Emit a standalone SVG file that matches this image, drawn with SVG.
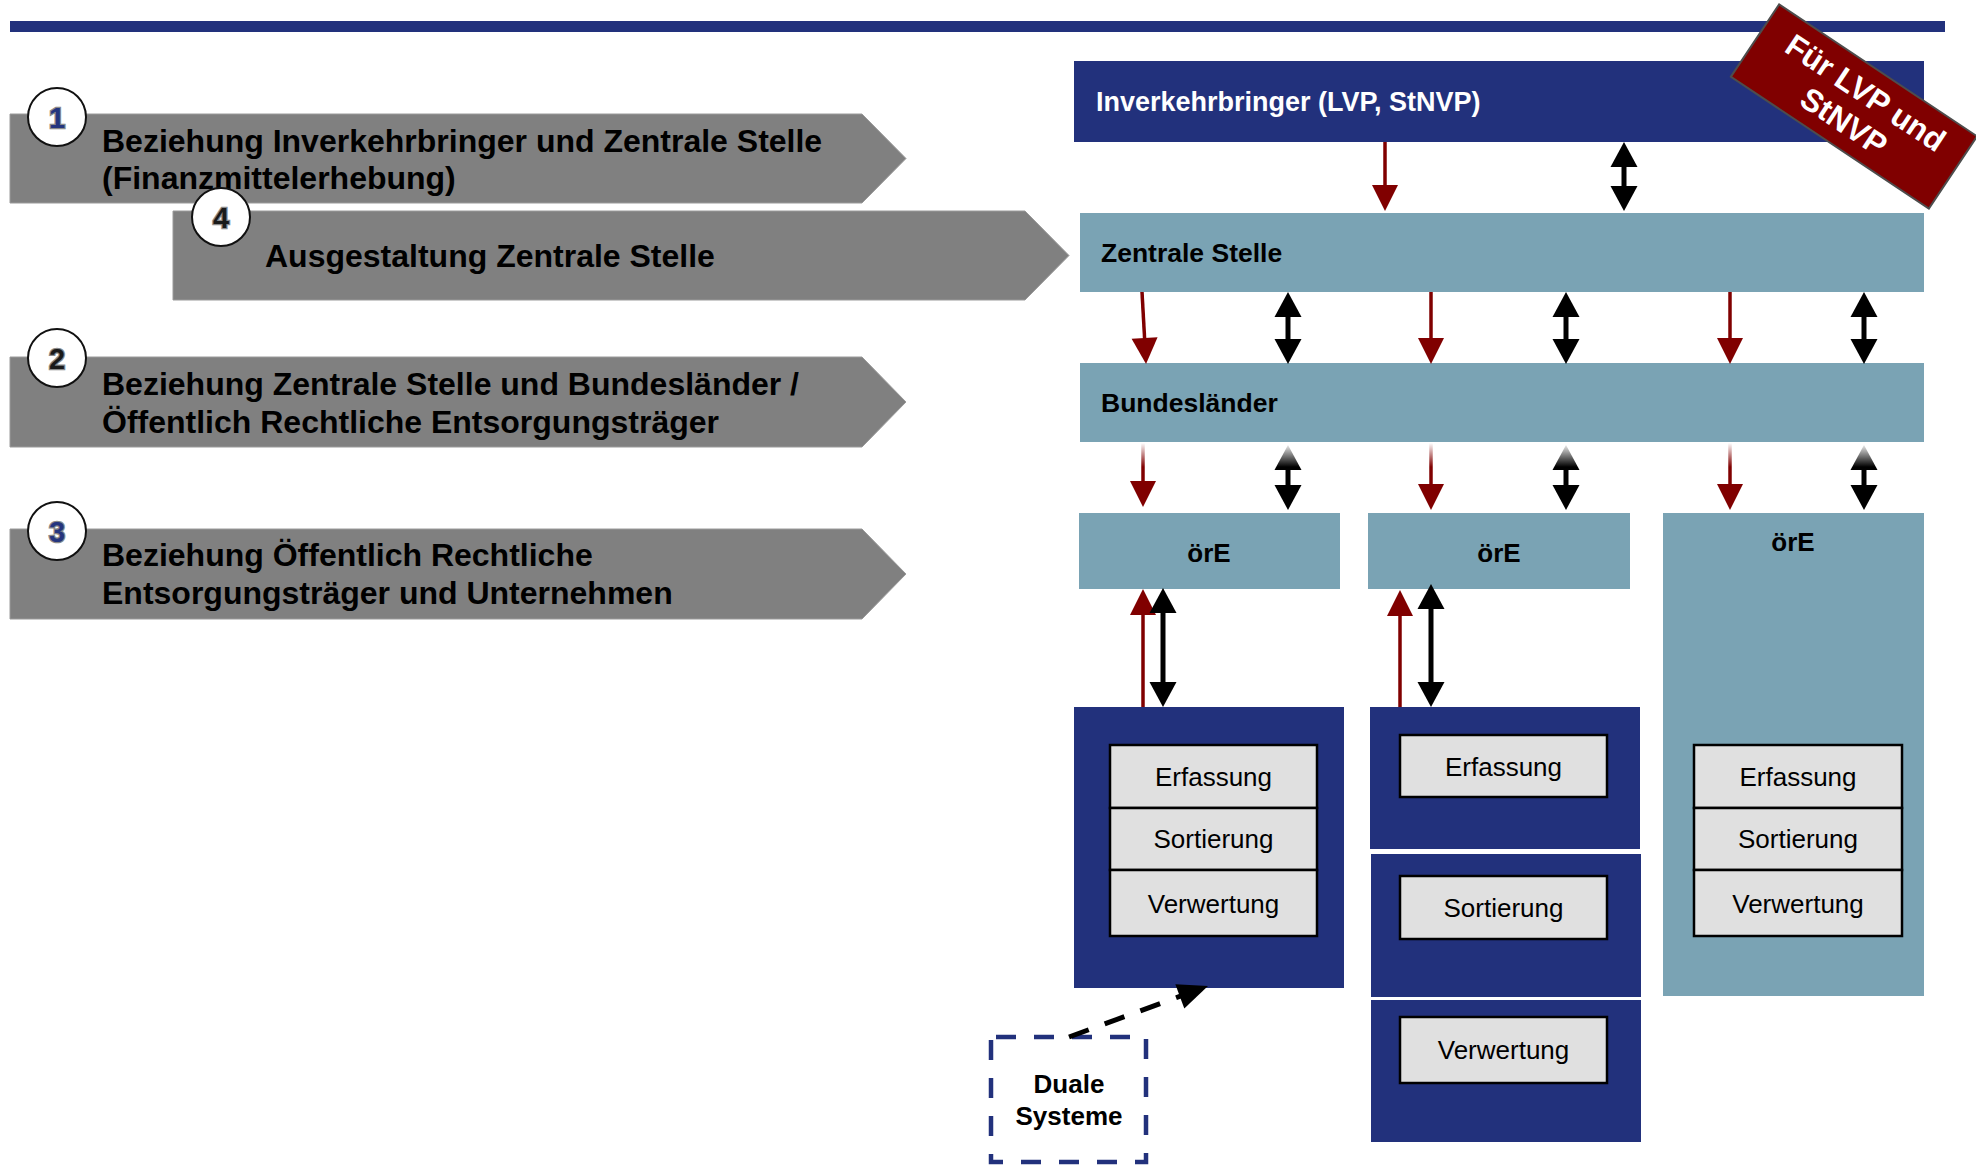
<svg xmlns="http://www.w3.org/2000/svg" width="1976" height="1165" viewBox="0 0 1976 1165">
  <style>
    text { font-family: "Liberation Sans", Arial, sans-serif; }
    .band { fill: #808080; stroke: #9a9a9a; stroke-width: 1; }
    .band-t { font-size: 32px; font-weight: bold; fill: #000; }
    .num-c { fill: #fff; stroke: #111; stroke-width: 2; }
    .num { font-size: 29px; font-weight: bold; text-anchor: middle; stroke: #8a8a8a; stroke-width: 2.5; paint-order: stroke; }
    .navy { fill: #22317c; }
    .teal { fill: #7aa3b4; }
    .hdr { font-size: 26.5px; font-weight: bold; fill: #000; }
    .hdr-w { font-size: 27px; font-weight: bold; fill: #fff; }
    .ore { font-size: 26px; font-weight: bold; fill: #000; text-anchor: middle; }
    .step { fill: #e0e0e0; stroke: #000; stroke-width: 2.5; }
    .step-t { font-size: 26px; fill: #000; text-anchor: middle; }
    .red { stroke: #800000; stroke-width: 3.5; fill: none; marker-end: url(#hr); }
    .dbl { stroke: #000; stroke-width: 5; fill: none; marker-start: url(#hb); marker-end: url(#hb); }
    .dash { stroke: #000; stroke-width: 5; fill: none; stroke-dasharray: 21 17; marker-end: url(#hd); }
  </style>
  <defs>
    <marker id="hr" markerUnits="userSpaceOnUse" markerWidth="30" markerHeight="30" refX="2" refY="0" orient="auto-start-reverse" overflow="visible">
      <path d="M0,-13 L26,0 L0,13 z" fill="#800000"/>
    </marker>
    <marker id="hb" markerUnits="userSpaceOnUse" markerWidth="30" markerHeight="30" refX="2" refY="0" orient="auto-start-reverse" overflow="visible">
      <path d="M0,-13.5 L25,0 L0,13.5 z" fill="#000"/>
    </marker>
    <marker id="hd" markerUnits="userSpaceOnUse" markerWidth="34" markerHeight="34" refX="2" refY="0" orient="auto" overflow="visible">
      <path d="M0,-13 L30,0 L0,13 z" fill="#000"/>
    </marker>
    <linearGradient id="fade" gradientUnits="userSpaceOnUse" x1="0" y1="443" x2="0" y2="467">
      <stop offset="0" stop-color="#fff" stop-opacity="1"/>
      <stop offset="1" stop-color="#fff" stop-opacity="0"/>
    </linearGradient>
  </defs>

  <!-- header rule -->
  <rect x="10" y="21" width="1935" height="11" class="navy"/>

  <!-- left-hand topic bands -->
  <g id="band-1">
    <polygon class="band" points="10,114 862,114 906,158.5 862,203 10,203"/>
    <text class="band-t" x="102" y="152">Beziehung Inverkehrbringer und Zentrale Stelle</text>
    <text class="band-t" x="102" y="189">(Finanzmittelerhebung)</text>
  </g>
  <g id="band-4">
    <polygon class="band" points="173,211 1025,211 1069,255.5 1025,300 173,300"/>
    <text class="band-t" x="265" y="267">Ausgestaltung Zentrale Stelle</text>
  </g>
  <g id="band-2">
    <polygon class="band" points="10,357 862,357 906,402 862,447 10,447"/>
    <text class="band-t" x="102" y="395">Beziehung Zentrale Stelle und Bundesländer /</text>
    <text class="band-t" x="102" y="433">Öffentlich Rechtliche Entsorgungsträger</text>
  </g>
  <g id="band-3">
    <polygon class="band" points="10,529 862,529 906,574 862,619 10,619"/>
    <text class="band-t" x="102" y="566">Beziehung Öffentlich Rechtliche</text>
    <text class="band-t" x="102" y="604">Entsorgungsträger und Unternehmen</text>
  </g>

  <!-- numbered badges -->
  <g id="badge-1">
    <circle class="num-c" cx="57" cy="117" r="29"/>
    <text class="num" x="57" y="127.5" fill="#25357f">1</text>
  </g>
  <g id="badge-4">
    <circle class="num-c" cx="221" cy="217" r="29"/>
    <text class="num" x="221" y="227.5" fill="#1a1a1a">4</text>
  </g>
  <g id="badge-2">
    <circle class="num-c" cx="57" cy="358" r="29"/>
    <text class="num" x="57" y="368.5" fill="#1a1a1a">2</text>
  </g>
  <g id="badge-3">
    <circle class="num-c" cx="57" cy="531" r="29"/>
    <text class="num" x="57" y="541.5" fill="#25357f">3</text>
  </g>

  <!-- organisation chart -->
  <g id="inverkehrbringer">
    <rect x="1074" y="61" width="850" height="81" class="navy"/>
    <text class="hdr-w" x="1096" y="111">Inverkehrbringer (LVP, StNVP)</text>
  </g>
  <g id="zentrale-stelle">
    <rect x="1080" y="213" width="844" height="79" class="teal"/>
    <text class="hdr" x="1101" y="262">Zentrale Stelle</text>
  </g>
  <g id="bundeslaender">
    <rect x="1080" y="363" width="844" height="79" class="teal"/>
    <text class="hdr" x="1101" y="412">Bundesländer</text>
  </g>
  <g id="ore-1">
    <rect x="1079" y="513" width="261" height="76" class="teal"/>
    <text class="ore" x="1209" y="562">örE</text>
  </g>
  <g id="ore-2">
    <rect x="1368" y="513" width="262" height="76" class="teal"/>
    <text class="ore" x="1499" y="562">örE</text>
  </g>
  <g id="ore-3">
    <rect x="1663" y="513" width="261" height="483" class="teal"/>
    <text class="ore" x="1793" y="551">örE</text>
    <rect class="step" x="1694" y="745" width="208" height="63"/>
    <text class="step-t" x="1798" y="786">Erfassung</text>
    <rect class="step" x="1694" y="808" width="208" height="62"/>
    <text class="step-t" x="1798" y="848">Sortierung</text>
    <rect class="step" x="1694" y="870" width="208" height="66"/>
    <text class="step-t" x="1798" y="913">Verwertung</text>
  </g>

  <g id="unternehmen-1">
    <rect x="1074" y="707" width="270" height="281" class="navy"/>
    <rect class="step" x="1110" y="745" width="207" height="63"/>
    <text class="step-t" x="1213.5" y="786">Erfassung</text>
    <rect class="step" x="1110" y="808" width="207" height="62"/>
    <text class="step-t" x="1213.5" y="848">Sortierung</text>
    <rect class="step" x="1110" y="870" width="207" height="66"/>
    <text class="step-t" x="1213.5" y="913">Verwertung</text>
  </g>
  <g id="unternehmen-2a">
    <rect x="1370" y="707" width="270" height="142" class="navy"/>
    <rect class="step" x="1400" y="735" width="207" height="62"/>
    <text class="step-t" x="1503.5" y="776">Erfassung</text>
  </g>
  <g id="unternehmen-2b">
    <rect x="1371" y="854" width="270" height="143" class="navy"/>
    <rect class="step" x="1400" y="876" width="207" height="63"/>
    <text class="step-t" x="1503.5" y="917">Sortierung</text>
  </g>
  <g id="unternehmen-2c">
    <rect x="1371" y="1000" width="270" height="142" class="navy"/>
    <rect class="step" x="1400" y="1017" width="207" height="66"/>
    <text class="step-t" x="1503.5" y="1059">Verwertung</text>
  </g>

  <g id="duale-systeme">
    <rect x="991" y="1037" width="155" height="125" fill="none" stroke="#22317c" stroke-width="4.5" stroke-dasharray="20 18" stroke-dashoffset="-5"/>
    <text x="1069" y="1093" font-size="26" font-weight="bold" text-anchor="middle">Duale</text>
    <text x="1069" y="1125" font-size="26" font-weight="bold" text-anchor="middle">Systeme</text>
  </g>

  <!-- connectors -->
  <g id="connectors">
    <line class="red" x1="1385" y1="142" x2="1385" y2="187"/>
    <line class="dbl" x1="1624" y1="165" x2="1624" y2="188"/>

    <line class="red" x1="1142" y1="292" x2="1144.7" y2="340"/>
    <line class="dbl" x1="1288" y1="315" x2="1288" y2="341"/>
    <line class="red" x1="1431" y1="292" x2="1431" y2="340"/>
    <line class="dbl" x1="1566" y1="315" x2="1566" y2="341"/>
    <line class="red" x1="1730" y1="292" x2="1730" y2="340"/>
    <line class="dbl" x1="1864" y1="315" x2="1864" y2="341"/>

    <line class="red" x1="1143" y1="443" x2="1143" y2="483"/>
    <line class="dbl" x1="1288" y1="468" x2="1288" y2="487"/>
    <line class="red" x1="1431" y1="443" x2="1431" y2="486"/>
    <line class="dbl" x1="1566" y1="468" x2="1566" y2="487"/>
    <line class="red" x1="1730" y1="443" x2="1730" y2="486"/>
    <line class="dbl" x1="1864" y1="468" x2="1864" y2="487"/>
    <!-- soft start of the lower connectors -->
    <rect x="1120" y="443" width="770" height="24" fill="url(#fade)"/>

    <line class="red" x1="1143" y1="707" x2="1143" y2="613"/>
    <line class="dbl" x1="1163" y1="611" x2="1163" y2="684"/>
    <line class="red" x1="1400" y1="707" x2="1400" y2="614"/>
    <line class="dbl" x1="1431" y1="607" x2="1431" y2="684"/>

    <line class="dash" x1="1069" y1="1037" x2="1181.7" y2="995.7"/>
  </g>

  <!-- scope banner -->
  <g id="banner" transform="translate(1854,106.5) rotate(33.7)">
    <rect x="-119" y="-43.5" width="238" height="87" fill="#800000" stroke="#4d4d4d" stroke-width="2"/>
    <text x="2" y="-7" font-size="31.5" font-weight="bold" fill="#fff" text-anchor="middle">Für LVP und</text>
    <text x="0" y="29" font-size="31.5" font-weight="bold" fill="#fff" text-anchor="middle">StNVP</text>
  </g>
</svg>
